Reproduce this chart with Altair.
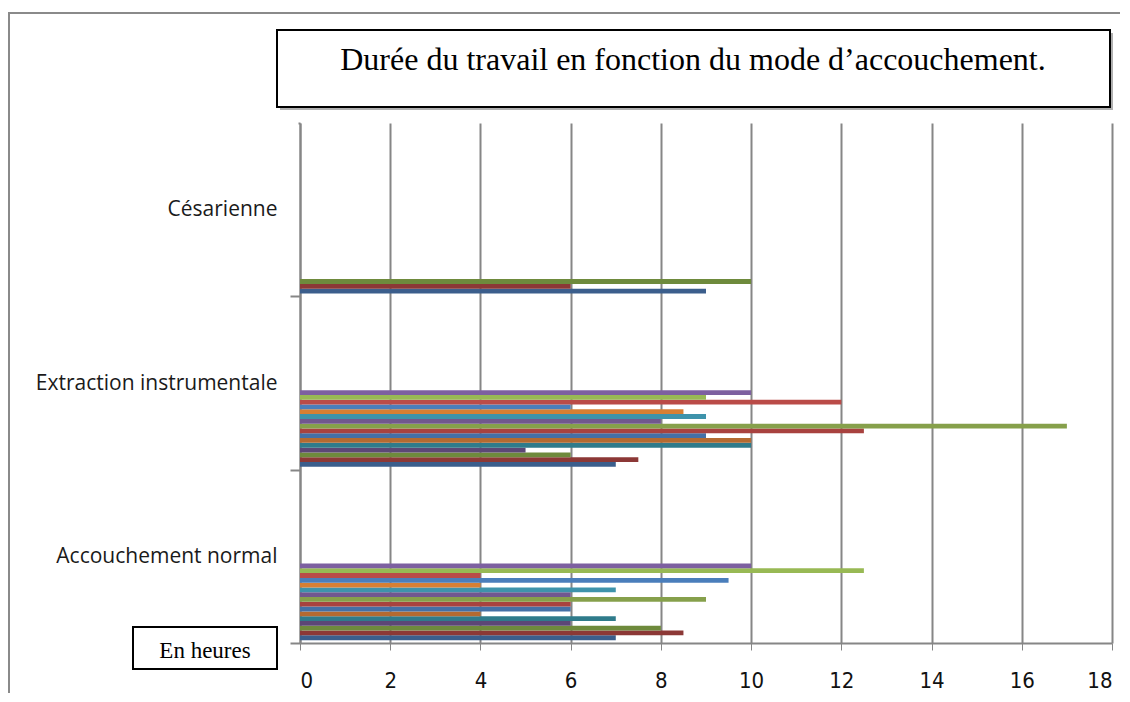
import altair as alt
import pandas as pd

categories = ["Césarienne", "Extraction instrumentale", "Accouchement normal"]
# values per series, series 1 drawn at the bottom of each group
cesarienne = [9, 6, 10]
extraction = [7, 7.5, 6, 5, 10, 10, 9, 12.5, 17, 8, 9, 8.5, 6, 12, 9, 10]
normal = [7, 8.5, 8, 6, 7, 4, 6, 6, 9, 6, 7, 4, 9.5, 4, 12.5, 10]
series_colors = [
    "#3B5E8C", "#8C3836", "#6E8A3C", "#5C4776", "#2F7B8B", "#B46A31",
    "#4470A6", "#A8423F", "#86A04B", "#71578F", "#3E93AB", "#D77F34",
    "#4A7EBB", "#BA4B48", "#98B954", "#7D60A0",
]
x_ticks = [0, 2, 4, 6, 8, 10, 12, 14, 16, 18]
title_text = "Durée du travail en fonction du mode d’accouchement."
unit_text = "En heures"
n_slots = 35

rows = []
for cat, vals in zip(categories, [cesarienne, extraction, normal]):
    for i, v in enumerate(vals):
        rows.append({"cat": cat, "serie": i, "val": v})
df = pd.DataFrame(rows)

num_font = "Liberation Sans Narrow, DejaVu Sans Condensed, Liberation Sans"
cat_font = "Open Sans"
grey = "#868686"

bars = alt.Chart(df).mark_bar(opacity=1).encode(
    y=alt.Y(
        "cat:N",
        sort=categories,
        scale=alt.Scale(paddingInner=0, paddingOuter=0),
        axis=alt.Axis(
            title=None, tickBand="extent", tickSize=10, tickColor=grey, tickWidth=2,
            domainColor=grey, domainWidth=2, labelFont=cat_font, labelFontSize=21,
            labelColor="#1a1a1a", labelPadding=13, labelLimit=400, grid=False,
        ),
    ),
    yOffset=alt.YOffset(
        "serie:O",
        scale=alt.Scale(domain=list(range(n_slots - 1, -1, -1)), paddingInner=0, paddingOuter=0.6),
    ),
    x=alt.X(
        "val:Q",
        scale=alt.Scale(domain=[0, 18], nice=False),
        axis=alt.Axis(
            title=None, values=x_ticks, grid=True, gridColor=grey, gridWidth=2,
            domainColor=grey, domainWidth=2, tickColor=grey, tickWidth=1, tickSize=7,
            labelFont=num_font, labelFontSize=22, labelColor="#111", labelPadding=20,
        ),
    ),
    color=alt.Color("serie:O", scale=alt.Scale(domain=list(range(16)), range=series_colors), legend=None),
)

one = pd.DataFrame({"a": [0]})
base = alt.Chart(one)

# hides the top category tick, which the reference does not show
top_tick_mask = base.mark_rule(color="white", strokeWidth=4).encode(
    x=alt.value(-13), x2=alt.value(-1.5), y=alt.value(0)
)

frame_left = base.mark_rule(color="#8a8a8a", strokeWidth=2).encode(
    x=alt.value(-291), y=alt.value(-110), y2=alt.value(600)
)
frame_top = base.mark_rule(color="#8a8a8a", strokeWidth=2).encode(
    x=alt.value(-292), x2=alt.value(830), y=alt.value(-110)
)

title_shadow = base.mark_rect(fill="#b0b0b0").encode(
    x=alt.value(-20), x2=alt.value(813), y=alt.value(-90), y2=alt.value(-13)
)
title_box = base.mark_rect(fill="white", stroke="black", strokeWidth=2).encode(
    x=alt.value(-23), x2=alt.value(810), y=alt.value(-93), y2=alt.value(-16)
)
title_label = base.mark_text(
    text=title_text, font="Liberation Serif", fontSize=32, color="black", align="center", baseline="middle"
).encode(x=alt.value(393), y=alt.value(-63))

unit_box = base.mark_rect(fill="white", stroke="black", strokeWidth=2).encode(
    x=alt.value(-167), x2=alt.value(-23), y=alt.value(504), y2=alt.value(546)
)
unit_label = base.mark_text(
    text=unit_text, font="Liberation Serif", fontSize=23, color="black", align="center", baseline="middle"
).encode(x=alt.value(-95), y=alt.value(528))

chart = alt.layer(
    frame_left, frame_top, bars, top_tick_mask, title_shadow, title_box, title_label, unit_box, unit_label
).properties(
    width=812, height=520,
    padding={"left": 292, "top": 115, "right": 8, "bottom": 50},
    autosize=alt.AutoSizeParams(type="none"),
    background="white",
).configure_view(stroke=None)

chart.save("out.html", embed_options={"renderer": "svg", "actions": False})
